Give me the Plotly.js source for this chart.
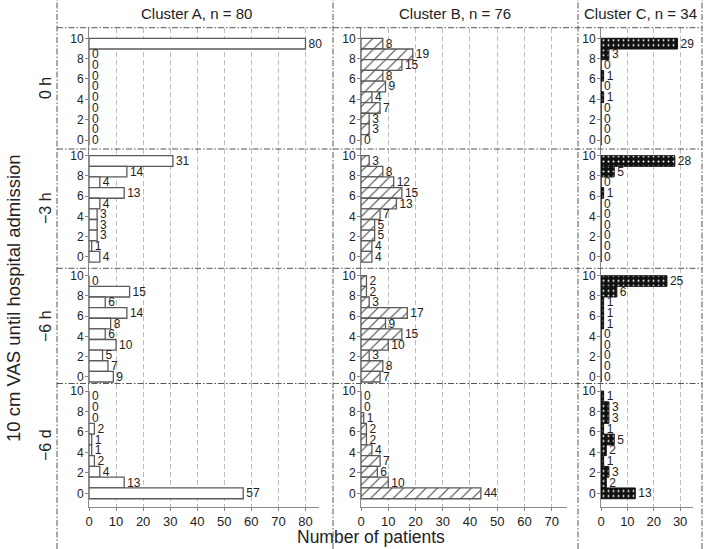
<!DOCTYPE html>
<html>
<head>
<meta charset="utf-8">
<script src="https://cdn.plot.ly/plotly-3.0.1.min.js"></script>
<style>html,body{margin:0;padding:0;background:#fff;}#chart{width:709px;height:549px;}</style>
</head>
<body>
<div id="chart"></div>
<script>
// ---- data (bars listed top to bottom) ----
const categories = [9, 8, 7, 6, 5, 4, 3, 2, 1, 0];   // bar slot index, top bar = 9
const yTickLabels = [0, 2, 4, 6, 8, 10];
const rowLabels = ["0 h", "\u22123 h", "\u22126 h", "\u22126 d"];
const columnTitles = ["Cluster A, n = 80", "Cluster B, n = 76", "Cluster C, n = 34"];
const xTicksA = [0, 10, 20, 30, 40, 50, 60, 70, 80];
const xTicksB = [0, 10, 20, 30, 40, 50, 60, 70];
const xTicksC = [0, 10, 20, 30];

const clusterA_0h = [80, 0, 0, 0, 0, 0, 0, 0, 0, 0];
const clusterA_3h = [31, 14, 4, 13, 4, 3, 3, 3, 1, 4];
const clusterA_6h = [0, 15, 6, 14, 8, 6, 10, 5, 7, 9];
const clusterA_6d = [0, 0, 0, 2, 1, 1, 2, 4, 13, 57];

const clusterB_0h = [8, 19, 15, 8, 9, 4, 7, 3, 3, 0];
const clusterB_3h = [3, 8, 12, 15, 13, 7, 5, 5, 4, 4];
const clusterB_6h = [2, 2, 3, 17, 9, 15, 10, 3, 8, 7];
const clusterB_6d = [0, 0, 1, 2, 2, 4, 7, 6, 10, 44];

const clusterC_0h = [29, 3, 0, 1, 0, 1, 0, 0, 0, 0];
const clusterC_3h = [28, 5, 0, 1, 0, 0, 0, 0, 0, 0];
const clusterC_6h = [25, 6, 1, 1, 1, 0, 0, 0, 0, 0];
const clusterC_6d = [1, 3, 3, 1, 5, 2, 1, 3, 2, 13];

const series = [
  [clusterA_0h, clusterB_0h, clusterC_0h],
  [clusterA_3h, clusterB_3h, clusterC_3h],
  [clusterA_6h, clusterB_6h, clusterC_6h],
  [clusterA_6d, clusterB_6d, clusterC_6d]
];

// ---- layout geometry (pixels) ----
const W = 709, H = 549;
const colPx = [[89, 319], [361, 566.7], [601, 693.3]];
const xRanges = [[0, 85], [0, 75.5], [0, 35]];
const xTicks = [xTicksA, xTicksB, xTicksC];
const rowPx = [[27.7, 149], [149, 268.3], [268.3, 383.5], [383.5, 506.7]];
const yRanges = [[-0.84, 10.49], [-1.09, 10.13], [-0.64, 10.2], [-1.24, 10.2]];
// the value axis 0..10 spans the 10 bar slots from the bottom slot centre to the top slot's top edge
const slotScale = 9.5 / 10;

const font = "Liberation Sans, Arial, sans-serif";
const markerStyles = [
  {color: "#ffffff", line: {color: "#5a5a5a", width: 1.3}},
  {color: "#ffffff", line: {color: "#5a5a5a", width: 1.3},
   pattern: {shape: "/", fgcolor: "#3a3a3a", bgcolor: "#ffffff", size: 8, solidity: 0.12, fillmode: "replace"}},
  {color: "#111111", line: {color: "#111111", width: 1},
   pattern: {shape: ".", fgcolor: "#ffffff", bgcolor: "#111111", size: 5, solidity: 0.12, fillmode: "replace"}}
];

const traces = [];
const layout = {
  width: W, height: H,
  margin: {l: 0, r: 0, t: 0, b: 0},
  paper_bgcolor: "#fff", plot_bgcolor: "rgba(0,0,0,0)",
  showlegend: false, hovermode: false,
  bargap: 0,
  font: {family: font, size: 12, color: "#222"},
  annotations: [], shapes: []
};

for (let r = 0; r < 4; r++) {
  for (let c = 0; c < 3; c++) {
    const k = r * 3 + c + 1;
    const xa = "x" + k, ya = "y" + k;
    const vals = series[r][c];
    traces.push({
      type: "bar", orientation: "h",
      x: vals, y: categories,
      xaxis: xa, yaxis: ya,
      width: 1,
      marker: markerStyles[c],
      text: vals.map(String),
      textposition: "outside",
      constraintext: "none",
      cliponaxis: false,
      textfont: {family: font, size: 12, color: "#222"}
    });
    const bottom = (r === 3);
    layout["xaxis" + k] = {
      anchor: ya,
      domain: [colPx[c][0] / W, colPx[c][1] / W],
      range: xRanges[c],
      tickvals: xTicks[c],
      ticktext: xTicks[c].map(String),
      showticklabels: bottom,
      ticks: bottom ? "outside" : "",
      ticklen: 3, tickcolor: "#888",
      showline: bottom, linecolor: "#888", linewidth: 1,
      showgrid: true, gridcolor: "#bcbcbc", griddash: "5px,3px", gridwidth: 1,
      zeroline: false, fixedrange: true,
      tickfont: {family: font, size: 13, color: "#222"}
    };
    layout["yaxis" + k] = {
      anchor: xa,
      domain: [1 - rowPx[r][1] / H, 1 - rowPx[r][0] / H],
      range: yRanges[r],
      tickvals: yTickLabels.map(v => v * slotScale),
      ticktext: yTickLabels.map(String),
      ticks: "outside", ticklen: 3, tickcolor: "#888",
      ticklabelstandoff: -1,
      showline: true, linecolor: "#888", linewidth: 1,
      showgrid: false, zeroline: false, fixedrange: true,
      tickfont: {family: font, size: 12, color: "#222"}
    };
  }
}

// column titles
const colCenters = [196, 455, 640];
columnTitles.forEach((t, i) => layout.annotations.push({
  text: t, xref: "paper", yref: "paper", x: colCenters[i] / W, y: 1 - 14 / H,
  showarrow: false, xanchor: "center", yanchor: "middle",
  font: {family: font, size: 15, color: "#222"}
}));
// row labels
const rowCenters = [88, 208, 326, 445];
rowLabels.forEach((t, i) => layout.annotations.push({
  text: t, xref: "paper", yref: "paper", x: 45 / W, y: 1 - rowCenters[i] / H,
  showarrow: false, textangle: -90, xanchor: "center", yanchor: "middle",
  font: {family: font, size: 16, color: "#222"}
}));
// y title
layout.annotations.push({
  text: "10 cm VAS until hospital admission", xref: "paper", yref: "paper",
  x: 13 / W, y: 1 - 298 / H, showarrow: false, textangle: -90,
  xanchor: "center", yanchor: "middle", font: {family: font, size: 18.5, color: "#222"}
});
// x title
layout.annotations.push({
  text: "Number of patients", xref: "paper", yref: "paper",
  x: 371 / W, y: 1 - 537 / H, showarrow: false,
  xanchor: "center", yanchor: "middle", font: {family: font, size: 17.5, color: "#222"}
});

// dash-dot separators
const sep = {color: "#555", width: 1, dash: "6px,2px,1.5px,2px"};
[57, 333, 578, 702].forEach(x => layout.shapes.push({
  type: "line", xref: "paper", yref: "paper", x0: x / W, x1: x / W, y0: 0, y1: 1, line: sep
}));
[27.7, 149, 268.3, 383.5].forEach(y => layout.shapes.push({
  type: "line", xref: "paper", yref: "paper", x0: 57 / W, x1: 702 / W, y0: 1 - y / H, y1: 1 - y / H, line: sep
}));

Plotly.newPlot("chart", traces, layout, {displayModeBar: false, staticPlot: true});
</script>
</body>
</html>
